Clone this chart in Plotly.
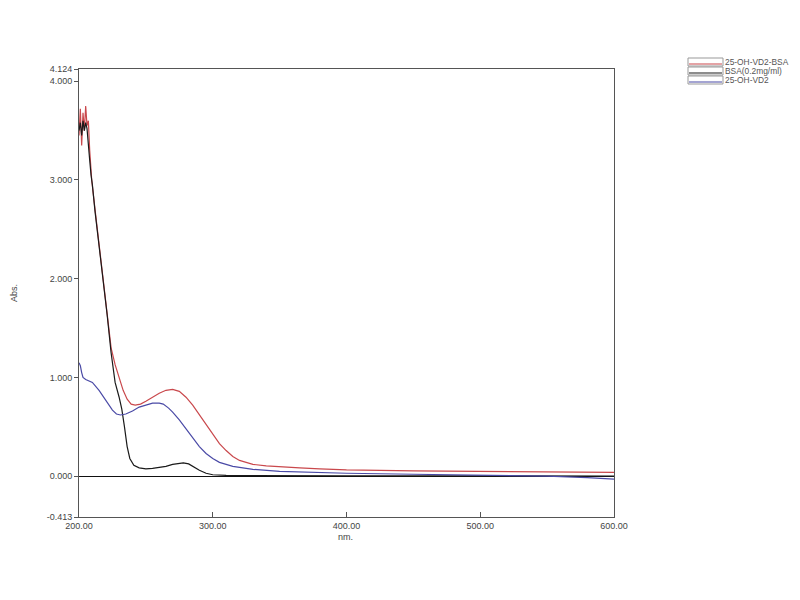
import plotly.graph_objects as go

# ---- data ----
wl_red = [200, 201, 202, 203, 204, 205, 206, 207, 208, 209.5, 212, 215, 218, 221, 224, 227, 230, 233, 236,
          239, 242, 246, 250, 255, 260, 265, 270, 275, 280, 285, 290, 295, 300, 305, 310, 315, 320, 325,
          330, 340, 350, 365, 380, 400, 450, 500, 550, 600]
abs_red = [3.45, 3.72, 3.35, 3.68, 3.5, 3.75, 3.55, 3.6, 3.3, 3.0, 2.7, 2.35, 2.02, 1.66, 1.3, 1.13, 0.99, 0.87, 0.78,
           0.73, 0.72, 0.73, 0.76, 0.8, 0.84, 0.87, 0.88, 0.86, 0.8, 0.72, 0.62, 0.52, 0.42, 0.33, 0.26, 0.2, 0.16, 0.14,
           0.12, 0.105, 0.095, 0.085, 0.075, 0.065, 0.055, 0.048, 0.042, 0.038]

wl_black = [200, 201, 202, 203, 204, 205, 206, 207, 208, 209, 210, 212, 215, 218, 221, 224, 227, 230, 232, 234,
            236, 238, 241, 245, 250, 255, 260, 265, 270, 275, 278, 282, 285, 290, 295, 300, 310, 350, 400, 500, 600]
abs_black = [3.5, 3.58, 3.45, 3.6, 3.5, 3.58, 3.52, 3.3, 3.2, 3.05, 2.95, 2.68, 2.35, 2.0, 1.64, 1.25, 0.95, 0.8, 0.68, 0.5,
             0.3, 0.18, 0.11, 0.085, 0.075, 0.08, 0.09, 0.1, 0.12, 0.13, 0.135, 0.125, 0.1, 0.06, 0.03, 0.015, 0.008,
             0.005, 0.005, 0.003, 0.002]

wl_blue = [200, 201, 202, 203, 205, 210, 215, 220, 225, 228, 231, 235, 240, 245, 250, 255, 260, 263, 267, 270, 275,
           280, 285, 290, 295, 300, 305, 310, 315, 320, 330, 350, 400, 450, 500, 550, 580, 600]
abs_blue = [1.15, 1.12, 1.05, 1.0, 0.98, 0.95, 0.87, 0.77, 0.67, 0.63, 0.62, 0.63, 0.66, 0.7, 0.72, 0.74, 0.74, 0.73,
            0.69, 0.65, 0.57, 0.48, 0.39, 0.3, 0.23, 0.18, 0.14, 0.12, 0.1, 0.09, 0.07, 0.05, 0.03, 0.02, 0.01, 0.0,
            -0.015, -0.03]

names = ["25-OH-VD2-BSA", "BSA(0.2mg/ml)", "25-OH-VD2"]
colors = ["#c9484c", "#1a1a1a", "#4a4aa6"]

x_ticks = [200, 300, 400, 500, 600]
y_ticks = [-0.413, 0.0, 1.0, 2.0, 3.0, 4.0, 4.124]

FONT = "Liberation Sans, Arial, sans-serif"

fig = go.Figure()
series = [(wl_red, abs_red), (wl_black, abs_black), (wl_blue, abs_blue)]
for (xs, ys), n, c in zip(series, names, colors):
    fig.add_trace(go.Scatter(x=xs, y=ys, mode="lines", name=n,
                             line=dict(color=c, width=1.2), showlegend=False))

OFF = 8  # page body margin
FW, FH = 800 - OFF, 600 - OFF
L, R, T, B = 79 - OFF, 614 - OFF, 69 - OFF, 517 - OFF
W, H = R - L, B - T


def px(xp):  # page pixel -> paper
    return (xp - OFF - L) / W


def py(yp):
    return (B - (yp - OFF)) / H


shapes = []
annotations = []
# custom legend
for i, (n, c) in enumerate(zip(names, colors)):
    top = 58 + i * 9
    shapes.append(dict(type="rect", xref="paper", yref="paper",
                       x0=px(688), x1=px(723), y0=py(top + 8), y1=py(top),
                       line=dict(color="#999999", width=1), fillcolor="white"))
    shapes.append(dict(type="line", xref="paper", yref="paper",
                       x0=px(689), x1=px(722), y0=py(top + 6), y1=py(top + 6),
                       line=dict(color=c, width=1.2)))
    annotations.append(dict(text=n, xref="paper", yref="paper", x=px(723), y=py(top + 4),
                            xanchor="left", yanchor="middle", showarrow=False,
                            font=dict(size=8.4, color="#555555", family=FONT)))

annotations.append(dict(text="Abs.", xref="paper", yref="paper", x=px(14), y=py(293),
                        textangle=-90, showarrow=False, xanchor="center", yanchor="middle",
                        font=dict(size=9, color="#444444", family=FONT)))
annotations.append(dict(text="nm.", xref="paper", yref="paper", x=px(345), y=py(537),
                        showarrow=False, xanchor="center", yanchor="middle",
                        font=dict(size=9, color="#444444", family=FONT)))

fig.update_layout(
    width=FW, height=FH,
    margin=dict(l=L, r=FW - R, t=T, b=FH - B),
    paper_bgcolor="white", plot_bgcolor="white",
    shapes=shapes, annotations=annotations,
    font=dict(family=FONT, size=9, color="#444444"),
    xaxis=dict(range=[200, 600], tickvals=x_ticks,
               ticktext=[f"{v:.2f}" for v in x_ticks],
               showgrid=False, zeroline=False, showline=True, mirror=True,
               linecolor="#555555", linewidth=1, ticks="inside", ticklen=5,
               tickcolor="#555555", tickfont=dict(size=9, color="#444444")),
    yaxis=dict(range=[-0.413, 4.124], tickvals=y_ticks,
               ticktext=[f"{v:.3f}" for v in y_ticks],
               showgrid=False, zeroline=True, zerolinecolor="#111111", zerolinewidth=1,
               showline=True, mirror=True, linecolor="#555555", linewidth=1,
               ticks="outside", ticklen=4, tickcolor="#555555",
               tickfont=dict(size=9, color="#444444")),
)

fig.write_html("out.html")
